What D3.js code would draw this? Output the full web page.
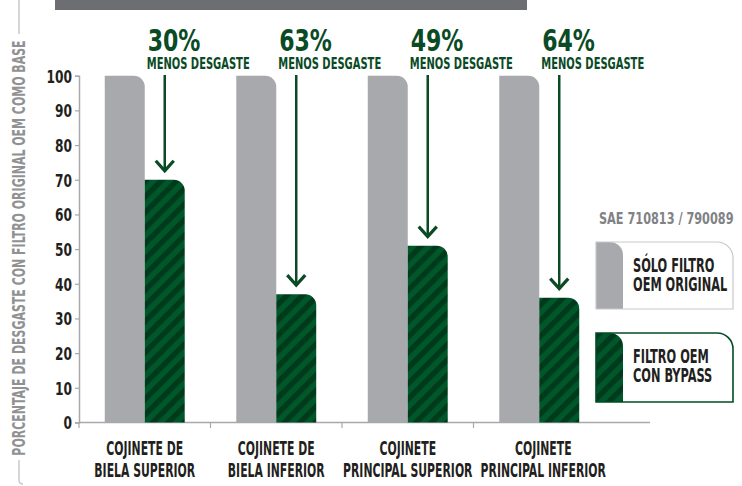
<!DOCTYPE html>
<html>
<head>
<meta charset="utf-8">
<script src="https://cdn.jsdelivr.net/npm/d3@7"></script>
<style>
  body { margin: 0; background: #fff; }
  text { font-family: "DejaVu Sans Condensed", "Liberation Sans Narrow", sans-serif; font-weight: bold; }
</style>
</head>
<body>
<div id="chart"></div>
<script>
// data
var categories = [
    ["COJINETE DE", "BIELA SUPERIOR"],
    ["COJINETE DE", "BIELA INFERIOR"],
    ["COJINETE", "PRINCIPAL SUPERIOR"],
    ["COJINETE", "PRINCIPAL INFERIOR"]
];
var oemValues = [100, 100, 100, 100];
var bypassValues = [70, 37, 51, 36];
var reductions = ["30%", "63%", "49%", "64%"];
var yTicks = [0, 10, 20, 30, 40, 50, 60, 70, 80, 90, 100];
var seriesNames = ["oem", "bypass"];
var legendLabels = [["SÓLO FILTRO", "OEM ORIGINAL"], ["FILTRO OEM", "CON BYPASS"]];
var yTitle = "PORCENTAJE DE DESGASTE CON FILTRO ORIGINAL OEM COMO BASE";
var sourceLabel = "SAE 710813 / 790089";

var W = 742, H = 486;
var GRAY = "#a7a9ac", GREEN_L = "#00582a", GREEN_D = "#003a1c", TXT_G = "#0a4a25", DARK = "#231f20";

var svg = d3.select("#chart").append("svg")
    .attr("width", W).attr("height", H);

// measure the font to get a condense factor (reference uses a very narrow display face)
var probe = svg.append("text").attr("font-size", 16).text("MENOS DESGASTE");
var squeeze = 103 / probe.node().getComputedTextLength();
probe.remove();

var defs = svg.append("defs");
var pat = defs.append("pattern")
    .attr("id", "stripes")
    .attr("patternUnits", "userSpaceOnUse")
    .attr("width", 11).attr("height", 11)
    .attr("patternTransform", "rotate(45)");
pat.append("rect").attr("width", 11).attr("height", 11).attr("fill", GREEN_L);
pat.append("rect").attr("width", 5.5).attr("height", 11).attr("fill", GREEN_D);

// condensed text helper
function ctext(g, x, y, str, size, color, anchor, k) {
    return g.append("text")
        .attr("transform", "translate(" + x + "," + y + ") scale(" + (squeeze * (k || 1)) + ",1)")
        .attr("font-size", size)
        .attr("fill", color)
        .attr("text-anchor", anchor || "start")
        .text(str);
}

// top grey strip
svg.append("rect").attr("x", 55).attr("y", 0).attr("width", 472).attr("height", 10).attr("fill", "#6d6e71");

// scales
var x0 = d3.scaleBand().domain(d3.range(categories.length)).range([79, 605])
    .paddingInner(0.392).paddingOuter(0.196);
var x1 = d3.scaleBand().domain(seriesNames).range([0, x0.bandwidth()]);
var y = d3.scaleLinear().domain([0, 100]).range([422.5, 75.7]);

// y axis
var yAxis = svg.append("g").attr("transform", "translate(79,0)")
    .call(d3.axisLeft(y).tickValues(yTicks).tickSize(4).tickPadding(0));
yAxis.select(".domain").attr("stroke", GRAY).attr("stroke-width", 1.5);
yAxis.selectAll(".tick line").attr("stroke", GRAY).attr("stroke-width", 1.2);
yAxis.selectAll(".tick text")
    .attr("font-size", 17.5).attr("fill", DARK)
    .attr("font-family", null).attr("font-weight", "bold")
    .attr("x", 0).attr("dy", "0.36em")
    .attr("transform", "translate(-7,0) scale(" + (squeeze * 1.12) + ",1)");

// x axis line + group ticks
svg.append("line").attr("x1", 79).attr("x2", 650).attr("y1", 422.5).attr("y2", 422.5)
    .attr("stroke", GRAY).attr("stroke-width", 1.5);
svg.selectAll(".xtick").data(d3.range(categories.length)).enter().append("line")
    .attr("x1", function (d) { return x0.step() * d + 79; })
    .attr("x2", function (d) { return x0.step() * d + 79; })
    .attr("y1", 422.5).attr("y2", 428)
    .attr("stroke", GRAY).attr("stroke-width", 1.2);

// rounded-top-right bar path
function barPath(x, yTop, w, yBase, r) {
    r = Math.min(r, yBase - yTop);
    return "M" + x + "," + yBase + "V" + yTop + "H" + (x + w - r) +
        "A" + r + "," + r + " 0 0 1 " + (x + w) + "," + (yTop + r) + "V" + yBase + "Z";
}

var groups = svg.selectAll(".grp").data(d3.range(categories.length)).enter().append("g")
    .attr("transform", function (i) { return "translate(" + x0(i) + ",0)"; });

groups.append("path")
    .attr("d", function (i) { return barPath(x1("oem"), y(oemValues[i]), x1.bandwidth(), y(0), 11); })
    .attr("fill", GRAY);
groups.append("path")
    .attr("d", function (i) { return barPath(x1("bypass"), y(bypassValues[i]), x1.bandwidth(), y(0), 11); })
    .attr("fill", "url(#stripes)");

// annotations
groups.each(function (i) {
    var g = d3.select(this);
    var bx = x1("bypass");
    var cx = bx + x1.bandwidth() / 2;
    ctext(g, bx + 3, 50.5, reductions[i], 30, TXT_G, "start", 1.18);
    ctext(g, bx + 2, 69, "MENOS DESGASTE", 16, TXT_G);
    var tip = y(bypassValues[i]) - 9;
    g.append("line").attr("x1", cx).attr("x2", cx).attr("y1", 75).attr("y2", tip - 1)
        .attr("stroke", TXT_G).attr("stroke-width", 2.5);
    g.append("polyline")
        .attr("points", [[cx - 9, tip - 10], [cx, tip], [cx + 9, tip - 10]].join(" "))
        .attr("fill", "none").attr("stroke", TXT_G).attr("stroke-width", 3.2);
    // category label
    var mid = x0.bandwidth() / 2 + (i === 3 ? 4 : 0);
    ctext(g, mid, 455, categories[i][0], 19, DARK, "middle", 0.92);
    ctext(g, mid, 477, categories[i][1], 19, DARK, "middle", 0.92);
});

// y title with bracket lines
ctext(svg.append("g").attr("transform", "translate(25,248) rotate(-90)"), 0, 0, yTitle, 17.5, "#8f9193", "middle", 1.01);
svg.append("line").attr("x1", 19).attr("x2", 19).attr("y1", 0).attr("y2", 34)
    .attr("stroke", "#c8c9cb").attr("stroke-width", 1.5);
svg.append("path").attr("d", "M19,460V480Q19,484 23,484")
    .attr("fill", "none").attr("stroke", "#c8c9cb").attr("stroke-width", 1.5);

// legend
ctext(svg, 599, 224, sourceLabel, 15.5, "#808285", "start", 1.17);
var legY = [242, 333];
var legH = [67, 69];
var legend = svg.selectAll(".leg").data(seriesNames).enter().append("g")
    .attr("transform", function (d, i) { return "translate(596," + legY[i] + ")"; });
legend.append("path")
    .attr("d", function (d, i) { return barPath(0, 0, 27, legH[i], 13); })
    .attr("fill", function (d) { return d === "oem" ? GRAY : "url(#stripes)"; });
legend.append("path")
    .attr("d", function (d, i) { return barPath(0, 0, 137, legH[i], 16); })
    .attr("fill", "none")
    .attr("stroke", function (d) { return d === "oem" ? "#c8c9cb" : "#004d25"; })
    .attr("stroke-width", function (d) { return d === "oem" ? 1.2 : 1.6; });
legend.each(function (d, i) {
    var g = d3.select(this);
    ctext(g, 37, 30, legendLabels[i][0], 19, DARK, "start", 0.96);
    ctext(g, 37, 49, legendLabels[i][1], 19, DARK, "start", 0.96);
});
</script>
</body>
</html>
